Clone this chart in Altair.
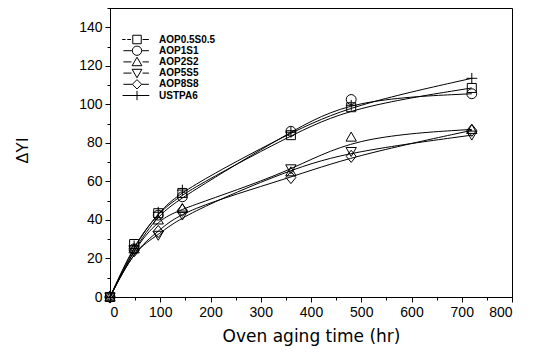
import altair as alt
import pandas as pd

time_hr = [0, 48, 96, 144, 360, 480, 720]
series = ["AOP0.5S0.5", "AOP1S1", "AOP2S2", "AOP5S5", "AOP8S8", "USTPA6"]
aop05 = [0, 27.5, 43.5, 54.0, 84.0, 98.5, 108.5]
aop1 = [0, 25.0, 42.5, 52.0, 86.0, 102.5, 105.5]
aop2 = [0, 25.0, 40.0, 46.0, 65.0, 83.0, 87.0]
aop5 = [0, 24.5, 32.0, 42.5, 66.5, 75.5, 84.0]
aop8 = [0, 24.0, 34.0, 45.0, 62.0, 73.0, 86.5]
ustpa6 = [0, 26.5, 44.0, 55.5, 85.5, 99.5, 113.5]

x_ticks = [0, 100, 200, 300, 400, 500, 600, 700, 800]
x_minor = [50, 150, 250, 350, 450, 550, 650, 750]
y_ticks = [0, 20, 40, 60, 80, 100, 120, 140]
y_minor = [10, 30, 50, 70, 90, 110, 130, 150]

rows = []
for name, vals in zip(series, [aop05, aop1, aop2, aop5, aop8, ustpa6]):
    for t, v in zip(time_hr, vals):
        rows.append({"t": t, "yi": v, "series": name})
df = pd.DataFrame(rows)

marker_paths = [
    "M-1,-1H1V1H-1Z",
    "M1.1,0A1.1,1.1 0 1,1 -1.1,0A1.1,1.1 0 1,1 1.1,0Z",
    "M0,-1.1L1.15,0.9L-1.15,0.9Z",
    "M0,1.1L1.15,-0.9L-1.15,-0.9Z",
    "M0,-1.35L1.1,0L0,1.35L-1.1,0Z",
    "M0,-1.2V1.2M-1.2,0H1.2",
]
legend_paths = [
    "M-1,-1H1V1H-1Z M-3.5,0H-2.7M-2.3,0H-1.4 M1.3,0H2.8",
    "M1.1,0A1.1,1.1 0 1,1 -1.1,0A1.1,1.1 0 1,1 1.1,0Z M-3.2,0H-1.2M1.2,0H2.8",
    "M0,-1.1L1.15,0.9L-1.15,0.9Z M-3.2,0H-1.3M1.3,0H2.8",
    "M0,1.1L1.15,-0.9L-1.15,-0.9Z M-3.2,0H-1.3M1.3,0H2.8",
    "M0,-1.1L1.1,0L0,1.1L-1.1,0Z M-3.2,0H-1.1M1.1,0H2.8",
    "M0,-1.1V1.1M-3.4,0H2.9",
]

FONT = "Liberation Sans"
TITLE_FONT = "DejaVu Sans"
xscale = alt.Scale(domain=[0, 800], nice=False)
yscale = alt.Scale(domain=[0, 150], nice=False)

base = alt.Chart(df)

axis_common = dict(labelFont=FONT, labelFontSize=14, labelColor="black",
                   tickColor="black", domainColor="black", grid=False)

lines = base.mark_line(interpolate="basis", color="black", strokeWidth=1).encode(
    x=alt.X("t:Q", scale=xscale,
            axis=alt.Axis(values=x_ticks, title="Oven aging time (hr)", tickSize=5,
                          labelPadding=3, titlePadding=9, titleFontSize=17,
                          titleFontWeight="normal", titleFont=TITLE_FONT, titleColor="black",
                          orient="bottom", **axis_common)),
    y=alt.Y("yi:Q", scale=yscale,
            axis=alt.Axis(values=y_ticks, title="ΔYI", tickSize=5, labelPadding=3,
                          titleFontSize=16, titleFontWeight="normal", titleFont=FONT,
                          titleColor="black",
                          titleX=-88, titleY=142, titleAngle=270, titleAlign="center",
                          titleBaseline="middle", orient="left", **axis_common)),
    detail="series:N",
)

points = base.mark_point(filled=False, color="black", strokeWidth=1, size=81, opacity=1).encode(
    x=alt.X("t:Q", scale=xscale, axis=None),
    y=alt.Y("yi:Q", scale=yscale, axis=None),
    shape=alt.Shape("series:N", scale=alt.Scale(domain=series, range=marker_paths), legend=None),
)

legend_layer = base.transform_filter("datum.t < 0").mark_point(
    filled=False, color="black", strokeWidth=1, size=72
).encode(
    x=alt.X("t:Q", scale=xscale, axis=None),
    y=alt.Y("yi:Q", scale=yscale, axis=None),
    shape=alt.Shape("series:N", scale=alt.Scale(domain=series, range=legend_paths),
                    legend=alt.Legend(title=None, orient="none", legendX=8, legendY=26,
                                      labelFont=FONT, labelFontSize=10, labelFontWeight="bold",
                                      labelColor="black", symbolOffset=14,
                                      labelOffset=17, rowPadding=0.2, clipHeight=11,
                                      symbolSize=72,
                                      symbolStrokeColor="black", symbolFillColor="transparent",
                                      symbolStrokeWidth=1, symbolOpacity=1, padding=0)),
)

minor = base.transform_filter("datum.t < 0").mark_point(opacity=0).encode(
    x=alt.X("t:Q", scale=xscale,
            axis=alt.Axis(values=x_minor, labels=False, domain=False, tickSize=3,
                          title=None, orient="bottom", grid=False, tickColor="black")),
    y=alt.Y("yi:Q", scale=yscale,
            axis=alt.Axis(values=y_minor, labels=False, domain=False, tickSize=3,
                          title=None, orient="left", grid=False, tickColor="black")),
)

chart = alt.layer(lines, points, legend_layer, minor).resolve_scale(
    shape="independent"
).resolve_axis(x="independent", y="independent").resolve_legend(
    shape="independent"
).properties(
    width=402, height=289, autosize="none",
    padding={"left": 102, "top": 0, "right": 14, "bottom": 49},
).configure(font=FONT).configure_view(stroke="black", strokeWidth=1)

chart.save("out.html", embed_options={"renderer": "svg", "actions": False})
